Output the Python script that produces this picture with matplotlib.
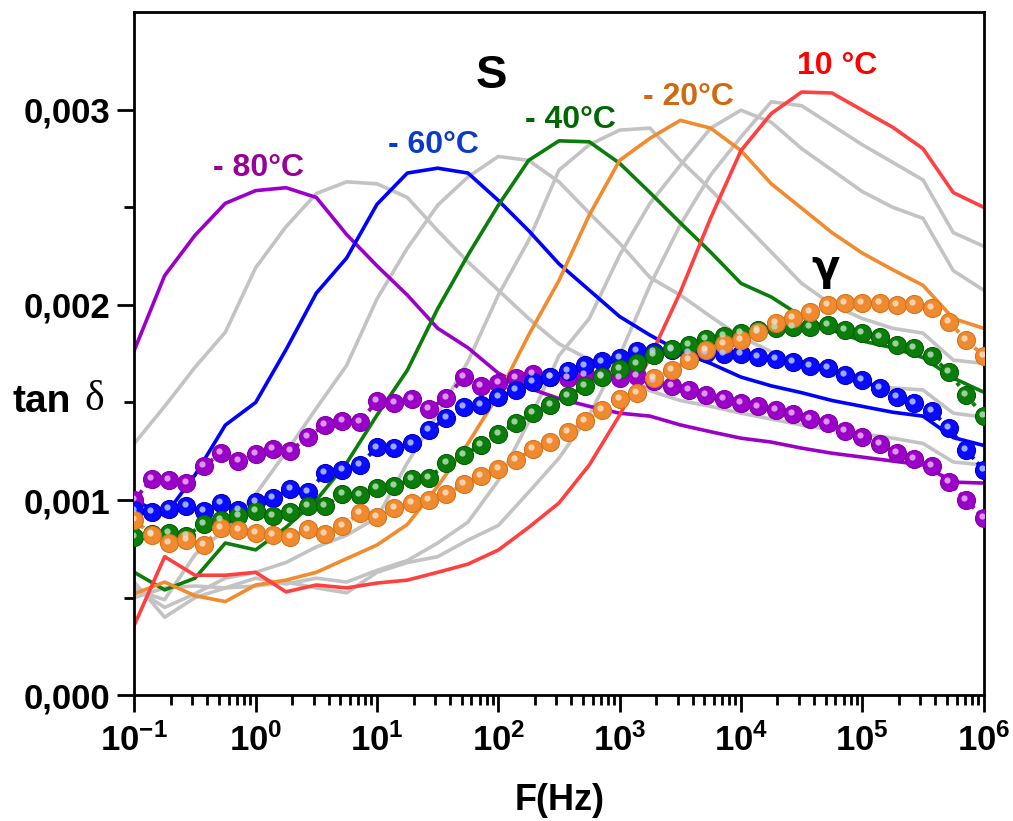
import numpy as np
import matplotlib
matplotlib.use('Agg')
import matplotlib.pyplot as plt
from matplotlib.ticker import FixedLocator, LogLocator, NullFormatter
from matplotlib.transforms import offset_copy

plt.rcParams['font.family'] = ['Liberation Sans', 'DejaVu Sans']
plt.rcParams['font.weight'] = 'bold'
plt.rcParams['mathtext.default'] = 'regular'

# measurement grids (log spaced)
f_line = 10 ** np.arange(-1, 6.25, 0.25)
f_dot = 10 ** (np.arange(50) / 7 - 1)

# tan delta (x1e-3), solid lines every 10 degC from -80 to 10
t_m80 = [1.768, 2.15, 2.356, 2.52, 2.585, 2.60, 2.55, 2.36, 2.20, 2.05, 1.88, 1.78, 1.65, 1.574, 1.52,
         1.48, 1.445, 1.43, 1.385, 1.35, 1.317, 1.297, 1.266, 1.24, 1.22, 1.20, 1.18, 1.092, 1.087]
t_m70 = [1.29, 1.48, 1.68, 1.86, 2.19, 2.40, 2.57, 2.63, 2.62, 2.55, 2.38, 2.22, 2.075, 1.93, 1.80,
         1.72, 1.64, 1.56, 1.51, 1.48, 1.445, 1.415, 1.384, 1.36, 1.34, 1.317, 1.29, 1.195, 1.18]
t_m60 = [1.0, 0.92, 1.128, 1.384, 1.50, 1.77, 2.06, 2.24, 2.515, 2.675, 2.70, 2.675, 2.535, 2.38, 2.21,
         2.075, 1.94, 1.845, 1.76, 1.70, 1.63, 1.585, 1.55, 1.51, 1.48, 1.45, 1.43, 1.32, 1.28]
t_m50 = [0.54, 0.49, 0.72, 0.85, 1.03, 1.245, 1.47, 1.69, 2.03, 2.29, 2.51, 2.655, 2.76, 2.74, 2.63,
         2.47, 2.315, 2.14, 2.05, 1.94, 1.835, 1.76, 1.70, 1.645, 1.594, 1.574, 1.564, 1.445, 1.425]
t_m40 = [0.63, 0.54, 0.60, 0.78, 0.745, 0.86, 1.0, 1.19, 1.435, 1.665, 1.98, 2.255, 2.51, 2.74, 2.84,
         2.835, 2.725, 2.575, 2.42, 2.27, 2.11, 2.04, 1.94, 1.87, 1.815, 1.78, 1.73, 1.625, 1.553]
t_m30 = [0.55, 0.45, 0.52, 0.60, 0.63, 0.68, 0.76, 0.82, 0.91, 1.19, 1.44, 1.71, 2.05, 2.33, 2.69,
         2.82, 2.895, 2.905, 2.74, 2.59, 2.43, 2.27, 2.11, 2.0, 1.93, 1.88, 1.855, 1.717, 1.70]
t_m20 = [0.52, 0.58, 0.51, 0.48, 0.565, 0.59, 0.63, 0.70, 0.77, 0.875, 1.07, 1.29, 1.54, 1.845, 2.125,
         2.46, 2.74, 2.853, 2.945, 2.905, 2.79, 2.62, 2.495, 2.37, 2.265, 2.18, 2.10, 1.93, 1.88]
t_m10 = [0.50, 0.55, 0.56, 0.55, 0.60, 0.57, 0.60, 0.58, 0.64, 0.69, 0.78, 0.887, 1.10, 1.40, 1.74,
         1.93, 2.255, 2.52, 2.715, 2.905, 2.997, 2.935, 2.80, 2.69, 2.58, 2.50, 2.443, 2.175, 2.075]
t_0 = [0.58, 0.40, 0.50, 0.55, 0.56, 0.58, 0.55, 0.525, 0.63, 0.68, 0.71, 0.795, 0.87, 1.04, 1.215,
       1.435, 1.74, 2.10, 2.41, 2.665, 2.86, 3.04, 3.02, 2.92, 2.82, 2.73, 2.64, 2.37, 2.30]
t_10 = [0.36, 0.71, 0.615, 0.615, 0.63, 0.53, 0.565, 0.55, 0.575, 0.59, 0.63, 0.672, 0.744, 0.86, 0.985,
        1.18, 1.435, 1.73, 2.065, 2.445, 2.79, 2.98, 3.09, 3.085, 2.997, 2.91, 2.80, 2.575, 2.50]

# gamma relaxation series (spheres), x1e-3
d_purple = [1.0, 1.107, 1.102, 1.087, 1.174, 1.24, 1.20, 1.236, 1.261, 1.251,
            1.323, 1.384, 1.404, 1.40, 1.507, 1.497, 1.517, 1.466, 1.522, 1.63,
            1.584, 1.60, 1.625, 1.645, 1.63, 1.625, 1.64, 1.635, 1.625, 1.635,
            1.61, 1.584, 1.564, 1.538, 1.517, 1.497, 1.48, 1.46, 1.44, 1.415,
            1.394, 1.353, 1.323, 1.287, 1.24, 1.21, 1.174, 1.092, 1.0, 0.908]
d_blue = [0.947, 0.939, 0.954, 0.969, 0.944, 0.985, 0.949, 0.99, 1.01, 1.056,
          1.04, 1.138, 1.154, 1.18, 1.27, 1.266, 1.29, 1.358, 1.42, 1.476,
          1.486, 1.527, 1.563, 1.604, 1.63, 1.66, 1.69, 1.71, 1.73, 1.763,
          1.758, 1.768, 1.753, 1.753, 1.748, 1.748, 1.733, 1.722, 1.707, 1.686,
          1.676, 1.64, 1.614, 1.573, 1.527, 1.497, 1.456, 1.369, 1.256, 1.154]
d_green = [0.81, 0.826, 0.831, 0.816, 0.877, 0.898, 0.918, 0.944, 0.918, 0.939,
           0.969, 0.969, 1.03, 1.026, 1.061, 1.072, 1.108, 1.113, 1.189, 1.23,
           1.282, 1.338, 1.394, 1.446, 1.486, 1.532, 1.584, 1.63, 1.67, 1.70,
           1.742, 1.773, 1.794, 1.824, 1.84, 1.855, 1.87, 1.88, 1.886, 1.886,
           1.896, 1.87, 1.855, 1.835, 1.794, 1.778, 1.737, 1.655, 1.538, 1.43]
d_orange = [0.9, 0.82, 0.78, 0.795, 0.77, 0.857, 0.846, 0.831, 0.82, 0.81,
            0.85, 0.826, 0.867, 0.933, 0.913, 0.959, 0.985, 1.0, 1.03, 1.082,
            1.123, 1.159, 1.205, 1.261, 1.297, 1.348, 1.404, 1.46, 1.517, 1.548,
            1.625, 1.666, 1.717, 1.768, 1.799, 1.82, 1.86, 1.907, 1.932, 1.963,
            1.999, 2.01, 2.01, 2.01, 1.999, 2.004, 1.983, 1.912, 1.82, 1.738]

gray = '#c3c3c3'
lines = [(t_m70, gray), (t_m50, gray), (t_m30, gray), (t_m10, gray), (t_0, gray),
         (t_m80, '#9a00c8'), (t_m60, '#0000ff'), (t_m40, '#0a7d0a'),
         (t_m20, '#f28a2e'), (t_10, '#ff4040')]
dots = [(d_purple, '#9a00c8', '#8400ac', '#e6b3f2'),
        (d_blue, '#0a0aff', '#0000c8', '#b3c8ff'),
        (d_green, '#0a7d0a', '#056005', '#b8e0b8'),
        (d_orange, '#f08a30', '#d87418', '#fde0c2')]

fig = plt.figure(figsize=(10.13, 8.21), dpi=100)
ax = fig.add_axes([0.1326, 0.1531, 0.8384, 0.8323])

for vals, c in lines:
    ax.plot(f_line, np.array(vals) * 1e-3, color=c, lw=2.6, zorder=2)

hl = offset_copy(ax.transData, fig=fig, x=-1.3, y=1.3, units='points')
for vals, c, dark, light in dots:
    y = np.array(vals) * 1e-3
    ax.plot(f_dot, y, ls=(0, (1, 1.2)), color=c, lw=2.8, zorder=4)
    ax.plot(f_dot, y, ls='none', marker='o', ms=13, mfc=c, mec=dark, mew=0.8, zorder=5)
    ax.plot(f_dot, y, ls='none', marker='o', ms=4.5, mfc=light, mec='none',
            alpha=0.85, transform=hl, zorder=6)

ax.set_xscale('log')
ax.set_xlim(0.1, 1e6)
ax.set_ylim(0, 0.0035)

ax.set_xticks([10.0 ** k for k in range(-1, 7)])
ax.set_xticklabels([r'$10^{%d}$' % k for k in range(-1, 7)])
ax.xaxis.set_minor_locator(LogLocator(base=10, subs=np.arange(2, 10)))
ax.xaxis.set_minor_formatter(NullFormatter())
ax.set_yticks([0, 0.001, 0.002, 0.003])
ax.set_yticklabels(['0,000', '0,001', '0,002', '0,003'])
ax.yaxis.set_minor_locator(FixedLocator([0.0005, 0.0015, 0.0025]))

ax.tick_params(which='major', direction='out', length=12, width=2, labelsize=25,
               top=False, right=False)
ax.tick_params(which='minor', direction='out', length=7, width=2, top=False, right=False)
ax.tick_params(axis='y', which='major', pad=5)
ax.tick_params(axis='x', which='major', pad=8)
for s in ax.spines.values():
    s.set_linewidth(2)


def px(x, y):
    return x / 1013, 1 - y / 821


fig.text(*px(560, 800), 'F(Hz)', ha='center', va='center', size=26, weight='bold')
fig.text(*px(12, 402), 'tan', ha='left', va='center', size=28, weight='bold')
fig.text(*px(84, 400), 'δ', ha='left', va='center', size=30, weight='normal',
         family='Liberation Serif')

fig.text(*px(491, 76), 'S', ha='center', va='center', size=34, weight='bold')
fig.text(*px(825, 268), 'γ', ha='center', va='center', size=30, weight='bold',
         family='DejaVu Sans')
fig.text(*px(258, 168), '- 80°C', ha='center', va='center', size=23, weight='bold', color='#990099')
fig.text(*px(433, 145), '- 60°C', ha='center', va='center', size=23, weight='bold', color='#0a3acc')
fig.text(*px(570, 120), '- 40°C', ha='center', va='center', size=23, weight='bold', color='#006600')
fig.text(*px(688, 97), '- 20°C', ha='center', va='center', size=23, weight='bold', color='#d06a10')
fig.text(*px(837, 66), '10 °C', ha='center', va='center', size=23, weight='bold', color='#ff0000')

fig.savefig('out.png', dpi=100)
